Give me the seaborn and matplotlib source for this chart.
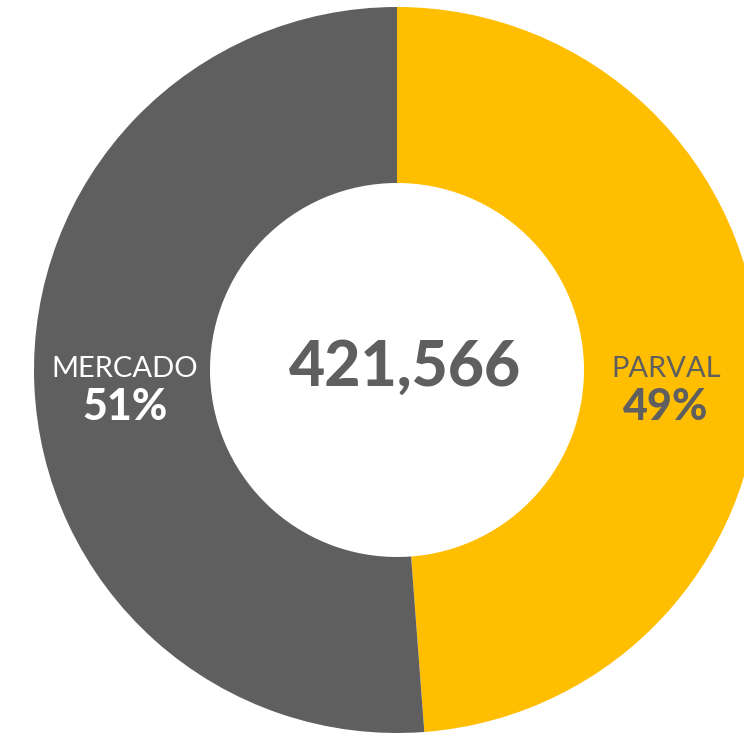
import numpy as np
import matplotlib
matplotlib.use("Agg")
import matplotlib.pyplot as plt
import seaborn as sns

# data
categories = ["PARVAL", "MERCADO"]
shares = [48.8, 51.2]
total = 421566
colors = ["#FFBE00", "#5F5F5F"]
label_colors = ["#5F5F5F", "#FFFFFF"]

sns.set_theme(style="white")
plt.rcParams['font.family'] = ['Lato', 'DejaVu Sans']

fig = plt.figure(figsize=(7.44, 7.35), dpi=100)
ax = fig.add_axes([0, 0, 1, 1])

# pixel-like coordinates, y pointing up
cx, cy, r = 397, 735 - 370, 363
ax.pie(shares, colors=colors, startangle=90, counterclock=False,
       center=(cx, cy), radius=r,
       wedgeprops=dict(width=r - 187, edgecolor="none"))
ax.set_xlim(0, 744)
ax.set_ylim(0, 735)
ax.set_aspect("equal")
ax.axis("off")

# centre total
ax.text(cx + 8, cy + 2, f"{total:,}", ha="center", va="center",
        fontsize=45, fontweight="black", color="#5F5F5F")

# segment labels
label_x = [666, 125]
for name, s, x, c in zip(categories, shares, label_x, label_colors):
    ax.text(x, cy + 1, name, ha="center", va="center",
            fontsize=21, color=c)
    ax.text(x, cy - 37, f"{round(s):.0f}%", ha="center", va="center",
            fontsize=31, fontweight="black", color=c)

fig.savefig("out.png", dpi=100)
